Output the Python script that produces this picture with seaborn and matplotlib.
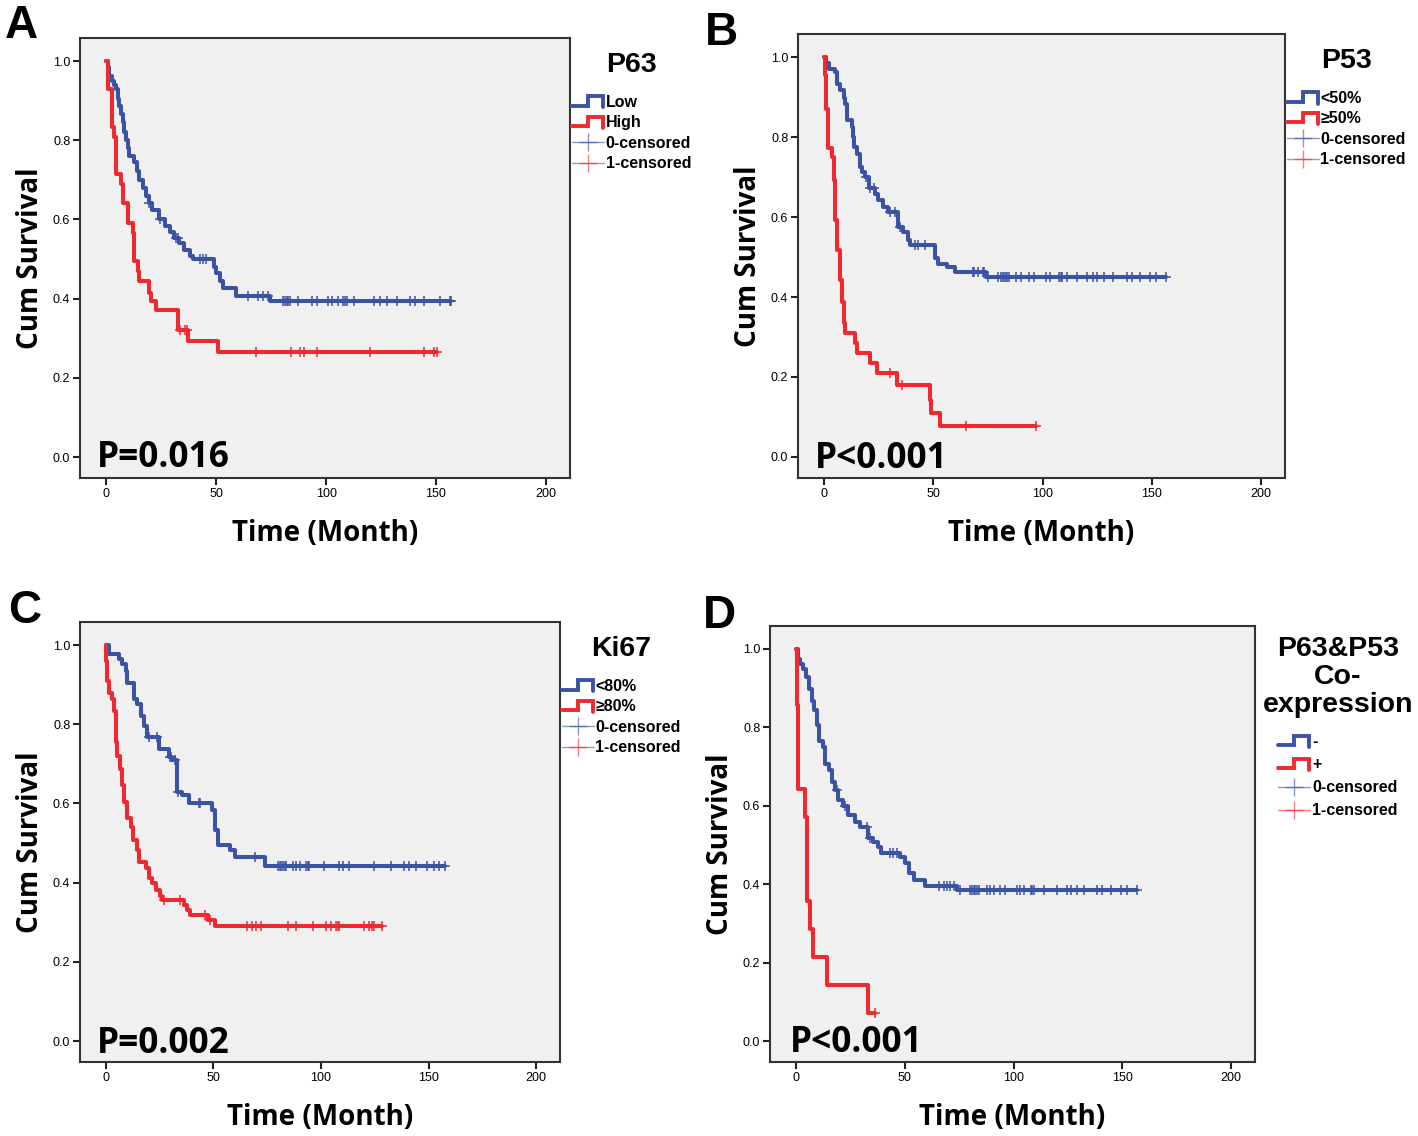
import numpy as np
import matplotlib
matplotlib.use('Agg')
import matplotlib.pyplot as plt
import seaborn as sns
from matplotlib.lines import Line2D
from matplotlib.legend_handler import HandlerBase

# ---------- data (month, cumulative survival after the step) ----------
a_low_t = [0, 0.8, 1.4, 2.5, 3.5, 4.4, 5.2, 5.9, 6.7, 7.5, 8.2, 9.0, 9.8, 10.5, 12.8, 13.8, 15.0, 16.5,
           18.0, 19.5, 21.0, 24.0, 26.5, 29.0, 31.0, 33.0, 35.5, 38.0, 39.4, 48.8, 50.0, 51.5, 53.0, 59.0, 74.4]
a_low_s = [1.0, 0.985, 0.963, 0.95, 0.94, 0.93, 0.905, 0.887, 0.866, 0.845, 0.822, 0.80, 0.78, 0.76, 0.744,
           0.722, 0.70, 0.68, 0.66, 0.642, 0.625, 0.60, 0.584, 0.567, 0.553, 0.54, 0.523, 0.507, 0.50, 0.48,
           0.465, 0.445, 0.427, 0.406, 0.393]
a_low_cens = [19.6, 24.2, 31.8, 32.6, 42.5, 44, 45.5, 64.5, 69.1, 71.4, 73.7, 80.5, 81.3, 82, 82.8, 83.6, 87.4,
              93.5, 95.7, 101, 102.6, 105.6, 107.9, 108.7, 109.4, 112.5, 121.6, 124.7, 127.7, 132.3, 138.4,
              140.6, 144.4, 152, 156.6, 157]
a_high_t = [0, 0.6, 2.7, 3.7, 4.4, 6.7, 7.5, 9.7, 12.0, 12.8, 14.3, 15.0, 19.6, 20.4, 22.7, 32.6, 37.0, 50.8]
a_high_s = [1.0, 0.93, 0.833, 0.807, 0.714, 0.689, 0.642, 0.59, 0.566, 0.494, 0.469, 0.444, 0.414, 0.393,
            0.372, 0.321, 0.292, 0.264]
a_high_cens = [33.5, 35.6, 36.5, 68, 84, 88, 90, 96, 120, 144.4, 149.3, 150.5]

b_low_t = [0, 1.0, 2.1, 5.1, 5.9, 7.4, 9.0, 9.7, 10.2, 10.5, 12.7, 13.2, 13.5, 15.0, 16.5, 17.5, 18.8, 20.3,
           23.3, 24.8, 27.0, 29.4, 34.0, 36.2, 38.5, 39.2, 50.6, 52.0, 56.0, 59.7, 74.0]
b_low_s = [1.0, 0.985, 0.97, 0.963, 0.934, 0.917, 0.897, 0.884, 0.862, 0.842, 0.826, 0.80, 0.776, 0.759,
           0.726, 0.713, 0.70, 0.672, 0.659, 0.642, 0.626, 0.613, 0.576, 0.563, 0.5425, 0.53, 0.497, 0.4825,
           0.476, 0.463, 0.449]
b_low_cens = [19.3, 21, 22.6, 30.2, 32.4, 34.5, 41.5, 43, 46, 68, 68.8, 70.3, 72.6, 73.3, 74.8, 79.4, 80.9,
              81.7, 82.4, 83.2, 83.9, 84.7, 87.7, 90, 93.8, 96, 101.4, 103.6, 107.4, 108.2, 109, 111.2, 115.8,
              120.3, 123.3, 124.9, 127.9, 132.4, 138.5, 140.8, 144.5, 149, 152.1, 156.7]
b_high_t = [0, 0.3, 0.8, 1.8, 3.6, 4.4, 5.1, 5.9, 7.4, 8.2, 9.0, 9.7, 14.2, 15.0, 21.0, 24.0, 33.2, 48.3,
            49.0, 52.9]
b_high_s = [1.0, 0.955, 0.87, 0.772, 0.75, 0.6925, 0.5925, 0.5175, 0.4425, 0.388, 0.334, 0.309, 0.284,
            0.259, 0.234, 0.209, 0.18, 0.1425, 0.109, 0.076]
b_high_cens = [30.2, 35.5, 65, 96.8]

c_low_t = [0, 1.5, 6.1, 7.7, 9.2, 10.0, 13.1, 14.6, 16.2, 17.7, 19.3, 24.6, 29.2, 30.8, 33.1, 35.4, 38.5,
           49.3, 50.8, 52.3, 57.7, 60.0, 73.9]
c_low_s = [1.0, 0.977, 0.964, 0.951, 0.935, 0.905, 0.864, 0.851, 0.822, 0.796, 0.767, 0.738, 0.717, 0.709,
           0.629, 0.621, 0.60, 0.583, 0.533, 0.495, 0.482, 0.464, 0.443]
c_low_cens = [20, 23.9, 29.7, 30.2, 32.3, 33.5, 43.1, 43.9, 69.3, 80, 80.8, 81.6, 82.3, 83.1, 83.9, 86.9,
              88.5, 90, 93.1, 93.9, 94.6, 101.6, 108.5, 110, 113.1, 124.7, 132.4, 138.5, 140.8, 143.9, 149.3,
              152.4, 154.7, 157.8]
c_high_t = [0, 0.3, 0.5, 1.5, 3.1, 3.8, 4.6, 5.4, 6.6, 7.7, 8.5, 9.7, 11.5, 12.8, 14.3, 15.4, 18.5, 20.0,
            21.6, 23.5, 25.1, 26.2, 36.2, 37.7, 39.2, 47.7, 50.8]
c_high_s = [1.0, 0.96, 0.91, 0.88, 0.864, 0.834, 0.755, 0.721, 0.688, 0.646, 0.604, 0.562, 0.541, 0.5075,
            0.482, 0.453, 0.436, 0.411, 0.399, 0.382, 0.367, 0.357, 0.344, 0.332, 0.319, 0.3065, 0.29]
c_high_cens = [27.0, 34.6, 46.2, 48.5, 65.4, 67.7, 70, 72.3, 84.6, 88.5, 96.2, 102.3, 104.7, 107, 107.7,
               108.5, 120, 122.3, 123.9, 124.7, 128.5]

d_neg_t = [0, 1.0, 1.8, 3.4, 4.6, 6.1, 7.2, 8.3, 9.5, 10.7, 12.6, 13.4, 15.3, 16.4, 18.0, 19.5, 21.8, 24.1,
           27.2, 29.5, 33.3, 35.6, 37.5, 39.0, 47.9, 50.2, 51.8, 54.0, 59.4, 74.0]
d_neg_s = [1.0, 0.975, 0.961, 0.948, 0.927, 0.898, 0.868, 0.843, 0.805, 0.766, 0.749, 0.707, 0.69, 0.661,
           0.64, 0.614, 0.60, 0.576, 0.559, 0.546, 0.517, 0.508, 0.496, 0.479, 0.47, 0.4535, 0.428, 0.411,
           0.396, 0.386]
d_neg_cens = [18.7, 22.6, 32.6, 34.1, 43.3, 44.8, 46.4, 65.6, 67.9, 69.4, 71, 72.5, 75.6, 80.2, 81, 81.7,
              82.5, 83.3, 84, 87.9, 89.4, 90.9, 94, 96.3, 101.7, 103.2, 104.8, 107.8, 108.6, 109.4, 114,
              120.1, 124.7, 126.3, 129.3, 132.4, 138.6, 140.9, 144.7, 149.3, 152.4, 157]
d_pos_t = [0, 0.6, 1.1, 4.1, 4.9, 6.5, 8.0, 14.1, 33.3]
d_pos_s = [1.0, 0.857, 0.643, 0.571, 0.357, 0.286, 0.214, 0.143, 0.071]
d_pos_cens = [36.4]

panel_letters = ['A', 'B', 'C', 'D']
legend_titles = ['P63', 'P53', 'Ki67', 'P63&P53\nCo-\nexpression']
group_labels = [['Low', 'High'], ['<50%', '\u226550%'], ['<80%', '\u226580%'], ['-', '+']]
p_texts = ['P=0.016', 'P<0.001', 'P=0.002', 'P<0.001']

BLUE = '#3A53A4'
RED = '#EE2A30'

sns.set_style('ticks', {'axes.facecolor': '#F0F0F0', 'axes.edgecolor': '#333333'})
plt.rcParams['font.family'] = ['Liberation Sans', 'DejaVu Sans']
plt.rcParams['text.color'] = 'black'
plt.rcParams['axes.labelcolor'] = 'black'


class StepHandler(HandlerBase):
    # draws the little step icon used by SPSS in its legend
    def create_artists(self, legend, orig_handle, xdescent, ydescent, width, height, fontsize, trans):
        x0, y0 = -xdescent, -ydescent
        xs = [x0, x0 + 0.5 * width, x0 + 0.5 * width, x0 + 0.96 * width, x0 + 0.96 * width]
        ys = [y0 + 0.1 * height, y0 + 0.1 * height, y0 + 0.95 * height, y0 + 0.95 * height, y0 - 0.05 * height]
        ln = Line2D(xs, ys, color=orig_handle.get_color(), lw=orig_handle.get_linewidth(),
                    solid_joinstyle='miter', transform=trans)
        return [ln]


def km_curve(ax, t, s, cens, color):
    t = list(t)
    s = list(s)
    end = max(cens)
    tt = t + [end]
    ss = s + [s[-1]]
    sns.lineplot(x=tt, y=ss, drawstyle='steps-post', color=color, lw=2.9, ax=ax,
                 estimator=None, sort=False)
    idx = np.searchsorted(np.array(t), np.array(cens), side='right') - 1
    cy = np.array(s)[idx]
    sns.scatterplot(x=cens, y=cy, marker='+', s=60, linewidth=1.1, color=color, ax=ax, zorder=3)


fig = plt.figure(figsize=(14.18, 11.36), dpi=100)
positions = [[0.0564, 0.5792, 0.3456, 0.3873],
             [0.5628, 0.5792, 0.3434, 0.3908],
             [0.0564, 0.0651, 0.3385, 0.3873],
             [0.5430, 0.0651, 0.3420, 0.3838]]
curves = [(a_low_t, a_low_s, a_low_cens, a_high_t, a_high_s, a_high_cens),
          (b_low_t, b_low_s, b_low_cens, b_high_t, b_high_s, b_high_cens),
          (c_low_t, c_low_s, c_low_cens, c_high_t, c_high_s, c_high_cens),
          (d_neg_t, d_neg_s, d_neg_cens, d_pos_t, d_pos_s, d_pos_cens)]
legend_anchor = [(1.004, 0.968), (1.004, 0.968), (1.004, 0.968), (1.016, 0.978)]
p_pos = [(0.035, 0.025), (0.035, 0.023), (0.035, 0.02), (0.041, 0.023)]
letter_pos = [(5, 38), (705, 45), (8, 623), (703, 628)]
entry_spacing = [0.34, 0.34, 0.34, 0.5]

for i in range(4):
    ax = fig.add_axes(positions[i])
    t0, s0, c0, t1, s1, c1 = curves[i]
    km_curve(ax, t0, s0, c0, BLUE)
    km_curve(ax, t1, s1, c1, RED)

    ax.set_xlim(-12, 211)
    ax.set_ylim(-0.053, 1.058)
    ax.set_xticks([0, 50, 100, 150, 200])
    ax.set_yticks([0, 0.2, 0.4, 0.6, 0.8, 1.0])
    ax.set_yticklabels(['0.0', '0.2', '0.4', '0.6', '0.8', '1.0'])
    ax.tick_params(direction='out', length=5, width=1.5, labelsize=9, pad=2, colors='#222222',
                   labelcolor='black')
    for sp in ax.spines.values():
        sp.set_visible(True)
        sp.set_linewidth(1.5)
        sp.set_color('#333333')

    ax.set_xlabel('Time (Month)', fontsize=20, fontweight='bold', family=['Open Sans', 'DejaVu Sans'])
    ax.set_ylabel('Cum Survival', fontsize=20, fontweight='bold', family=['Open Sans', 'DejaVu Sans'])
    ax.xaxis.set_label_coords(0.5, -0.093)
    ax.yaxis.set_label_coords(-0.072, 0.5)

    ax.text(p_pos[i][0], p_pos[i][1], p_texts[i], transform=ax.transAxes, va='baseline', ha='left',
            fontsize=25.5, fontweight='bold', family=['Open Sans', 'DejaVu Sans'])

    h_blue = Line2D([], [], color=BLUE, lw=2.8)
    h_red = Line2D([], [], color=RED, lw=2.8)
    h_c0 = Line2D([], [], color=BLUE, lw=1.0, alpha=0.6, marker='+', markersize=13, mew=1.0)
    h_c1 = Line2D([], [], color=RED, lw=1.0, alpha=0.6, marker='+', markersize=13, mew=1.0)
    labels = group_labels[i] + ['0-censored', '1-censored']
    leg = ax.legend([h_blue, h_red, h_c0, h_c1], labels,
                    handler_map={h_blue: StepHandler(), h_red: StepHandler()},
                    loc='upper left', bbox_to_anchor=legend_anchor[i], frameon=False,
                    borderaxespad=0, borderpad=0, handlelength=2.0, handletextpad=0.1,
                    labelspacing=entry_spacing[i], numpoints=1, title=legend_titles[i],
                    prop={'size': 11.5, 'weight': 'bold'},
                    title_fontproperties={'size': 20.5, 'weight': 'bold'})
    leg.get_title().set_multialignment('center')
    leg.get_title().set_linespacing(1.1)
    leg._legend_box.sep = 12

    fig.text(letter_pos[i][0] / 1418, 1 - letter_pos[i][1] / 1136, panel_letters[i],
             fontsize=33, fontweight='bold', va='baseline', ha='left')

fig.savefig('out.png', dpi=100)
